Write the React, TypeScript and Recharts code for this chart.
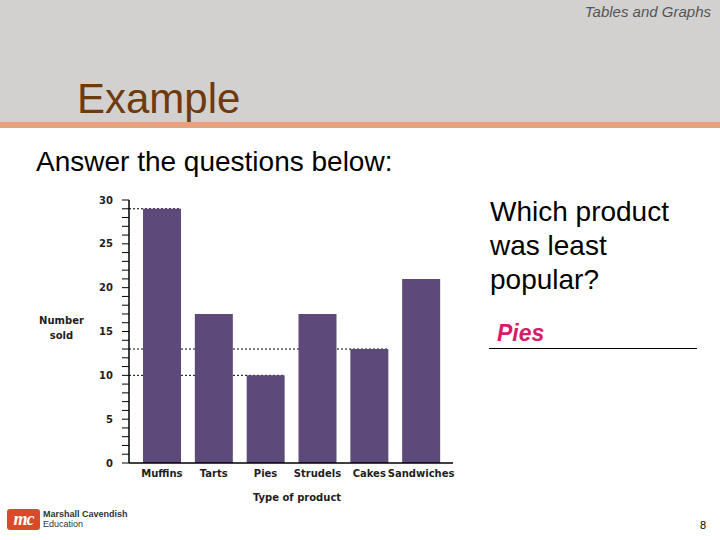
import { BarChart, Bar, XAxis, YAxis } from "recharts";

const products = ["Muffins", "Tarts", "Pies", "Strudels", "Cakes", "Sandwiches"];
const sold = [29, 17, 10, 17, 13, 21];
// dotted guide lines drawn from the axis to the top of these bars
const guides = [29, null, 10, null, 13, null];
const yTicks = [0, 1, 2, 3, 4, 5, 6, 7, 8, 9, 10, 11, 12, 13, 14, 15, 16, 17, 18, 19, 20, 21, 22, 23, 24, 25, 26, 27, 28, 29, 30];
const yLabels = [0, 5, 10, 15, 20, 25, 30];

const data = products.map((product, i) => ({ product, sold: sold[i], guide: guides[i] }));

const CHART_FONT = '"DejaVu Sans", Verdana, sans-serif';
const INK = "#1e1e1e";
const BAR = "#5e4a7a";
const MARGIN = { top: 15, right: 17, left: 0, bottom: 14 };
const Y_WIDTH = 99;
const PLOT_LEFT = MARGIN.left + Y_WIDTH;

function YTick(props: any) {
  const { x, y, payload } = props;
  if (!yLabels.includes(payload.value)) return <g />;
  return (
    <text x={x} y={y} dy={3.6} textAnchor="end" fontFamily={CHART_FONT} fontSize={10} fontWeight="bold" fill={INK}>
      {payload.value}
    </text>
  );
}

function YLabel(props: any) {
  const { viewBox } = props;
  const cx = viewBox.x + 31.5;
  const cy = viewBox.y + viewBox.height / 2;
  return (
    <text textAnchor="middle" fontFamily={CHART_FONT} fontSize={10} fontWeight="bold" fill={INK}>
      <tspan x={cx} y={cy - 8}>Number</tspan>
      <tspan x={cx} y={cy + 7}>sold</tspan>
    </text>
  );
}

function GuideShape(props: any) {
  const { x, y, width, payload } = props;
  if (payload.guide == null) return <g />;
  return <line x1={PLOT_LEFT} x2={x + width} y1={y} y2={y} stroke="#000" strokeWidth={1} strokeDasharray="2 2" />;
}

function SalesChart() {
  return (
    <BarChart width={440} height={330} data={data} margin={MARGIN} barSize={38} barGap={-38}>
      <XAxis
        dataKey="product"
        tickLine={false}
        tickSize={0}
        tickMargin={7}
        axisLine={{ stroke: "#000", strokeWidth: 1.5 }}
        padding={{ left: 7, right: 6 }}
        height={38}
        interval={0}
        tick={{ fontFamily: CHART_FONT, fontSize: 10, fontWeight: "bold", fill: INK }}
        label={{
          value: "Type of product",
          position: "insideBottom",
          offset: 0,
          dx: 6,
          style: { fontFamily: CHART_FONT, fontSize: 10, fontWeight: "bold", fill: INK },
        }}
      />
      <YAxis
        domain={[0, 30]}
        ticks={yTicks}
        interval={0}
        width={Y_WIDTH}
        tickSize={7}
        tickMargin={9}
        tickLine={{ stroke: "#000" }}
        axisLine={{ stroke: "#000", strokeWidth: 1.5 }}
        tick={<YTick />}
        label={{ content: <YLabel /> }}
      />
      <Bar dataKey="guide" shape={<GuideShape />} isAnimationActive={false} />
      <Bar dataKey="sold" fill={BAR} isAnimationActive={false} />
    </BarChart>
  );
}

const abs = (s: any) => ({ position: "absolute" as const, margin: 0, whiteSpace: "nowrap" as const, ...s });

export default function App() {
  return (
    <div
      style={{
        position: "absolute",
        left: 0,
        top: 0,
        width: 720,
        height: 540,
        background: "#fff",
        overflow: "hidden",
        fontFamily: '"Liberation Sans", Arial, sans-serif',
      }}
    >
      <div style={abs({ left: 0, top: 0, width: 720, height: 122, background: "#d3d1cf" })} />
      <div style={abs({ left: 0, top: 122, width: 720, height: 6, background: "#e9a17d" })} />
      <div style={abs({ right: 9, top: 4, fontSize: 15, lineHeight: "15px", fontStyle: "italic", color: "#555" })}>
        Tables and Graphs
      </div>
      <div style={abs({ left: 77, top: 78, fontSize: 42, lineHeight: "42px", color: "#6f3a0d" })}>Example</div>
      <div style={abs({ left: 36, top: 148, fontSize: 28, lineHeight: "28px", color: "#000" })}>
        Answer the questions below:
      </div>

      <div style={abs({ left: 30, top: 185 })}>
        <SalesChart />
      </div>

      <div style={abs({ left: 490, top: 195, fontSize: 28, lineHeight: "34px", color: "#000" })}>
        Which product
        <br />
        was least
        <br />
        popular?
      </div>
      <div
        style={abs({
          left: 497,
          top: 322,
          fontSize: 23,
          lineHeight: "23px",
          fontStyle: "italic",
          fontWeight: "bold",
          color: "#d81b6b",
        })}
      >
        Pies
      </div>
      <div style={abs({ left: 489, top: 348, width: 208, height: 1, background: "#000" })} />

      <div style={abs({ left: 7, top: 509, width: 33, height: 21, background: "#d94a2a", borderRadius: 3 })}>
        <div
          style={{
            color: "#fff",
            fontFamily: '"Liberation Serif", serif',
            fontStyle: "italic",
            fontWeight: "bold",
            fontSize: 18,
            lineHeight: "20px",
            textAlign: "center",
            letterSpacing: -1,
          }}
        >
          mc
        </div>
      </div>
      <div style={abs({ left: 43, top: 509, fontSize: 9, lineHeight: "10px", color: "#333", fontWeight: "bold" })}>
        Marshall Cavendish
      </div>
      <div style={abs({ left: 43, top: 519, fontSize: 9, lineHeight: "10px", color: "#333" })}>Education</div>
      <div style={abs({ left: 700, top: 520, fontSize: 11, lineHeight: "11px", color: "#000" })}>8</div>
    </div>
  );
}
